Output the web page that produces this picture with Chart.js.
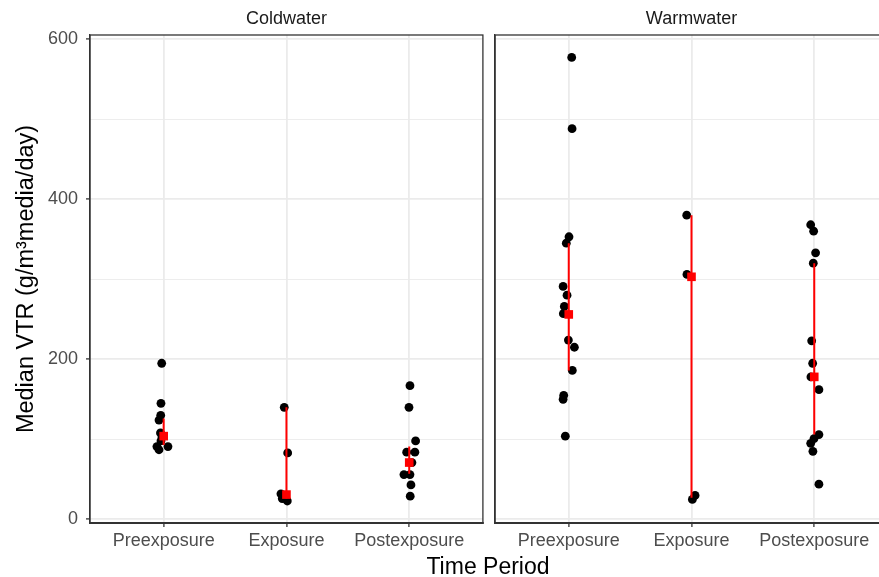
<!DOCTYPE html>
<html>
<head>
<meta charset="utf-8">
<script src="https://cdn.jsdelivr.net/npm/chart.js@4.4.1/dist/chart.umd.min.js"></script>
<style>
  html, body { margin: 0; padding: 0; background: #fff; overflow: hidden; }
  #wrap { position: relative; width: 879px; height: 577px; overflow: hidden; }
  #cold { position: absolute; left: 0; top: 0; }
  #warm { position: absolute; left: 489px; top: 0; }
  #xtitle {
    position: absolute; left: 338px; width: 300px; top: 555px;
    text-align: center; font: 23px/23px 'Liberation Sans', Arial, sans-serif; color: #000;
  }
</style>
</head>
<body>
<div id="wrap">
  <canvas id="cold" width="489" height="577"></canvas>
  <canvas id="warm" width="405" height="577"></canvas>
  <div id="xtitle">Time Period</div>
</div>
<script>
// categorias y ticks
const periods = ['Preexposure', 'Exposure', 'Postexposure'];
const yMajorTicks = [0, 200, 400, 600];
const yMinorTicks = [100, 300, 500];

// Coldwater: puntos con jitter (x = indice del periodo + jitter)
const coldX = [0.984, 0.978, 0.976, 0.962, 0.974, 0.986, 0.978, 0.945, 0.962, 1.035,
               1.982, 2.010, 1.955, 1.966, 2.007,
               3.006, 2.998, 3.052, 2.979, 3.046, 3.022, 2.957, 3.006, 3.014, 3.008];
const coldY = [195, 145, 130, 124, 108, 103, 98, 91, 87, 91,
               140, 83, 32, 26, 23,
               167, 140, 98, 84, 84, 71, 56, 56, 43, 29];
const coldMedian = [104, 31, 71];
const coldLow = [93, 26, 57];
const coldHigh = [126, 140, 91];

// Warmwater
const warmX = [1.024, 1.027, 1.002, 0.980, 0.954, 0.986, 0.964, 0.956, 0.997, 1.046, 1.029, 0.959, 0.954, 0.972,
               1.961, 1.963, 2.029, 2.007,
               2.971, 2.995, 3.011, 2.992, 2.979, 2.987, 2.973, 3.038, 3.038, 2.998, 2.971, 2.989, 3.038];
const warmY = [577, 488, 353, 345, 291, 280, 266, 257, 224, 215, 186, 155, 150, 104,
               380, 306, 30, 25,
               368, 360, 333, 320, 223, 195, 178, 162, 106, 101, 95, 85, 44];
const warmMedian = [256, 303, 178];
const warmLow = [186, 27, 106];
const warmHigh = [345, 380, 320];

Chart.defaults.font.family = "'Liberation Sans', Arial, sans-serif";

// borde del panel (como theme_bw)
const panelBox = {
  id: 'panelBox',
  afterDraw(chart) {
    const a = chart.chartArea;
    const ctx = chart.ctx;
    ctx.save();
    ctx.strokeStyle = '#333333';
    ctx.lineWidth = 1.3;
    ctx.strokeRect(a.left, a.top, a.right - a.left, a.bottom - a.top);
    ctx.restore();
  }
};

function isMinor(v) {
  return yMinorTicks.includes(v);
}

function drawPanel(canvasId, stripText, xs, ys, med, low, high, showY) {
  const points = xs.map((x, i) => ({ x: x, y: ys[i] }));
  const ranges = [];
  med.forEach((m, i) => {
    ranges.push({ x: i + 1, y: low[i] }, { x: i + 1, y: high[i] }, { x: i + 1, y: null });
  });
  const medians = med.map((m, i) => ({ x: i + 1, y: m }));

  new Chart(document.getElementById(canvasId), {
    type: 'scatter',
    data: {
      datasets: [
        {
          data: medians,
          pointStyle: 'rect',
          pointRadius: 6.1,
          pointBorderWidth: 0,
          backgroundColor: '#FF0000',
          order: 0
        },
        {
          type: 'line',
          data: ranges,
          borderColor: '#FF0000',
          borderWidth: 2,
          pointRadius: 0,
          spanGaps: false,
          order: 1
        },
        {
          data: points,
          pointRadius: 4.4,
          pointBorderWidth: 0,
          backgroundColor: '#000000',
          order: 2
        }
      ]
    },
    options: {
      responsive: false,
      animation: false,
      layout: { padding: { left: showY ? 0 : 6, right: 6, top: 0, bottom: 0 } },
      plugins: {
        legend: { display: false },
        tooltip: { enabled: false },
        title: {
          display: true,
          text: stripText,
          fullSize: false,
          color: '#1A1A1A',
          font: { size: 18, weight: 'normal' },
          padding: { top: 8, bottom: 5.4 }
        }
      },
      scales: {
        x: {
          type: 'linear',
          min: 0.4,
          max: 3.6,
          afterBuildTicks: s => { s.ticks = periods.map((p, i) => ({ value: i + 1 })); },
          afterFit: s => { s.height = 54; },
          ticks: {
            callback: v => periods[v - 1],
            color: '#4D4D4D',
            font: { size: 18 },
            padding: 3,
            maxRotation: 0,
            autoSkip: false
          },
          grid: { color: '#EBEBEB', lineWidth: 1.8, tickColor: '#333333', tickLength: 4, tickWidth: 1.3 },
          border: { color: '#333333', width: 2 }
        },
        y: {
          min: -4.5,
          max: 605,
          afterBuildTicks: s => {
            s.ticks = [...yMajorTicks, ...yMinorTicks].sort((a, b) => a - b).map(v => ({ value: v }));
          },
          afterFit: s => { s.width = showY ? 90 : 0; },
          ticks: {
            display: showY,
            callback: v => isMinor(v) ? '' : v,
            color: '#4D4D4D',
            font: { size: 18 },
            padding: 8
          },
          title: {
            display: showY,
            text: 'Median VTR (g/m³media/day)',
            color: '#000000',
            font: { size: 23.5 },
            padding: { top: 12, bottom: 0 }
          },
          grid: {
            color: '#EBEBEB',
            lineWidth: c => isMinor(c.tick.value) ? 0.9 : 1.8,
            drawTicks: showY,
            tickColor: c => isMinor(c.tick.value) ? 'rgba(0,0,0,0)' : '#333333',
            tickLength: 4,
            tickWidth: 1.3
          },
          border: { color: '#333333', width: 1.3 }
        }
      }
    },
    plugins: [panelBox]
  });
}

drawPanel('cold', 'Coldwater', coldX, coldY, coldMedian, coldLow, coldHigh, true);
drawPanel('warm', 'Warmwater', warmX, warmY, warmMedian, warmLow, warmHigh, false);
</script>
</body>
</html>
